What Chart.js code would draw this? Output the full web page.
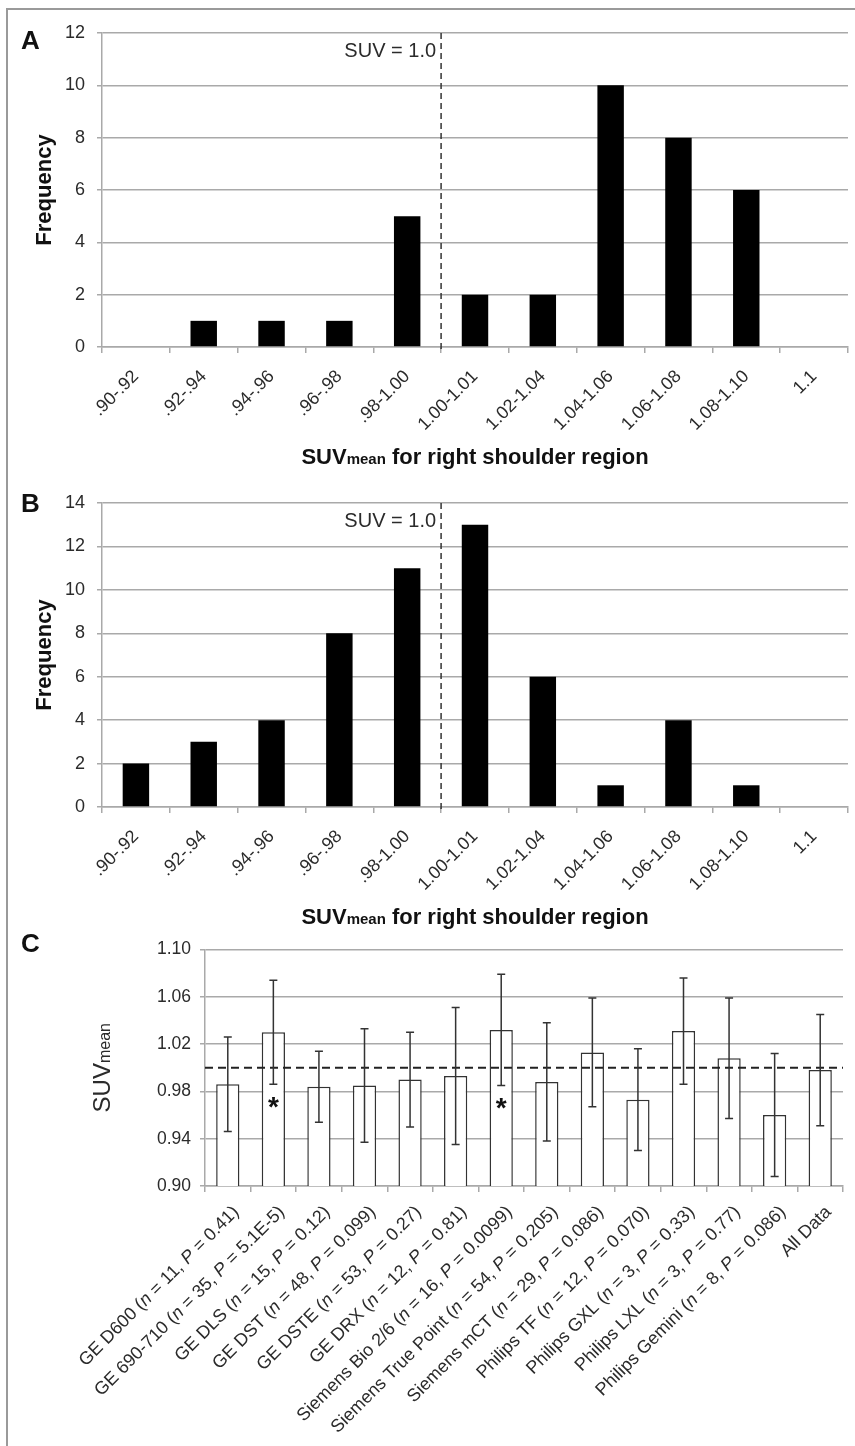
<!DOCTYPE html>
<html>
<head>
<meta charset="utf-8">
<script src="https://cdn.jsdelivr.net/npm/chart.js@4.4.1/dist/chart.umd.min.js"></script>
<style>
  html, body { margin: 0; padding: 0; background: #fff; }
  #fig { position: relative; width: 855px; height: 1446px; overflow: hidden; }
  #frame { position: absolute; left: 6px; top: 8px; width: 900px; height: 1500px;
           border-left: 2px solid #9a9a9a; border-top: 2px solid #9a9a9a; }
  canvas { position: absolute; left: 0; }
</style>
</head>
<body>
<div id="fig">
  <div id="frame"></div>
  <canvas id="chartA" width="855" height="470" style="top:0px"></canvas>
  <canvas id="chartB" width="855" height="460" style="top:470px"></canvas>
  <canvas id="chartC" width="855" height="516" style="top:930px"></canvas>
</div>
<script>
// --- data ---
const binLabels = [".90-.92", ".92-.94", ".94-.96", ".96-.98", ".98-1.00", "1.00-1.01",
                   "1.02-1.04", "1.04-1.06", "1.06-1.08", "1.08-1.10", "1.1"];
const freqA = [0, 1, 1, 1, 5, 2, 2, 10, 8, 6, 0];
const freqB = [2, 3, 4, 8, 11, 13, 6, 1, 4, 1, 0];

const scanners = ["GE D600", "GE 690-710", "GE DLS", "GE DST", "GE DSTE", "GE DRX",
                  "Siemens Bio 2/6", "Siemens True Point", "Siemens mCT", "Philips TF",
                  "Philips GXL", "Philips LXL", "Philips Gemini", "All Data"];
const scannerN = [11, 35, 15, 48, 53, 12, 16, 54, 29, 12, 3, 3, 8, null];
const scannerP = ["0.41", "5.1E-5", "0.12", "0.099", "0.27", "0.81", "0.0099", "0.205",
                  "0.086", "0.070", "0.33", "0.77", "0.086", null];
const suvMean = [0.986, 1.030, 0.984, 0.985, 0.990, 0.993, 1.032, 0.988, 1.013, 0.973,
                 1.031, 1.008, 0.960, 0.998];
const suvSD = [0.040, 0.044, 0.030, 0.048, 0.040, 0.058, 0.047, 0.050, 0.046, 0.043,
               0.045, 0.051, 0.052, 0.047];
const significant = [false, true, false, false, false, false, true, false, false, false,
                     false, false, false, false];
const suvTicks = [0.90, 0.94, 0.98, 1.02, 1.06, 1.10];
const suvRef = 1.0;

// --- style ---
const FONT = "'Liberation Sans', Arial, Helvetica, sans-serif";
const TEXT = "#2b2b2b";
const GRID = "#a9a9a9";
Chart.defaults.font.family = FONT;
Chart.defaults.color = TEXT;

// draw text made of pieces with different fonts, left to right, from x
function drawPieces(ctx, pieces, x, y) {
  let cx = x;
  pieces.forEach(p => {
    ctx.font = p.font;
    ctx.fillText(p.text, cx, y);
    cx += ctx.measureText(p.text).width;
  });
}
function piecesWidth(ctx, pieces) {
  return pieces.reduce((w, p) => { ctx.font = p.font; return w + ctx.measureText(p.text).width; }, 0);
}

// histogram annotations: SUV = 1.0 line, panel letter, axis titles
const histDecor = {
  id: "histDecor",
  afterDraw(chart, args, opts) {
    const { ctx, chartArea: a, scales: { x } } = chart;
    const xv = (x.getPixelForValue(4) + x.getPixelForValue(5)) / 2;
    ctx.save();
    ctx.strokeStyle = "#333";
    ctx.lineWidth = 1.5;
    ctx.setLineDash([6, 4]);
    ctx.beginPath();
    ctx.moveTo(xv, a.top);
    ctx.lineTo(xv, a.bottom + 4);
    ctx.stroke();
    ctx.setLineDash([]);

    ctx.fillStyle = TEXT;
    ctx.textAlign = "right";
    ctx.textBaseline = "middle";
    ctx.font = "20px " + FONT;
    ctx.fillText("SUV = 1.0", xv - 5, a.top + 18);

    // panel letter
    ctx.fillStyle = "#111";
    ctx.textAlign = "left";
    ctx.textBaseline = "alphabetic";
    ctx.font = "bold 26px " + FONT;
    ctx.fillText(opts.letter, 21, opts.letterY);

    // y title
    ctx.save();
    ctx.translate(51, (a.top + a.bottom) / 2);
    ctx.rotate(-Math.PI / 2);
    ctx.textAlign = "center";
    ctx.font = "bold 22px " + FONT;
    ctx.fillText("Frequency", 0, 0);
    ctx.restore();

    // x title with smaller "mean"
    const pieces = [
      { text: "SUV", font: "bold 22px " + FONT },
      { text: "mean", font: "bold 15px " + FONT },
      { text: " for right shoulder region", font: "bold 22px " + FONT }
    ];
    const w = piecesWidth(ctx, pieces);
    drawPieces(ctx, pieces, (a.left + a.right) / 2 - w / 2, a.bottom + 117);
    ctx.restore();
  }
};

function histOptions(yMax, plotTop, plotBottom, canvasH, letter, letterY) {
  return {
    responsive: false,
    animation: false,
    layout: { padding: { top: plotTop, right: 7, left: 0, bottom: 0 } },
    plugins: {
      legend: { display: false },
      tooltip: { enabled: false },
      histDecor: { letter: letter, letterY: letterY }
    },
    scales: {
      x: {
        grid: { drawOnChartArea: false, offset: true, tickLength: 6, color: GRID, lineWidth: 1.5 },
        border: { color: GRID, width: 1.5 },
        ticks: { autoSkip: false, minRotation: 45, maxRotation: 45, padding: 13,
                 color: TEXT, font: { size: 18 } },
        afterFit: s => { s.height = canvasH - plotBottom; }
      },
      y: {
        min: 0,
        max: yMax,
        ticks: { stepSize: 2, padding: 12, color: TEXT, font: { size: 18 } },
        grid: { color: GRID, lineWidth: 1.5, tickLength: 5 },
        border: { color: GRID, width: 1.5 },
        afterFit: s => { s.width = 102; }
      }
    }
  };
}

function histData(values) {
  return {
    labels: binLabels,
    datasets: [{
      data: values,
      backgroundColor: "#000",
      borderWidth: 0,
      barPercentage: 0.39,
      categoryPercentage: 1.0
    }]
  };
}

new Chart(document.getElementById("chartA"), {
  type: "bar",
  data: histData(freqA),
  options: histOptions(12, 33, 347, 470, "A", 49),
  plugins: [histDecor]
});

new Chart(document.getElementById("chartB"), {
  type: "bar",
  data: histData(freqB),
  options: histOptions(14, 33, 337, 460, "B", 42),
  plugins: [histDecor]
});

// --- panel C: error bars, reference line, asterisks, rotated rich labels ---
const scannerDecor = {
  id: "scannerDecor",
  afterDraw(chart) {
    const { ctx, chartArea: a, scales: { x, y } } = chart;
    const meta = chart.getDatasetMeta(0);
    ctx.save();

    // reference line at SUV = 1.0
    const yr = y.getPixelForValue(suvRef);
    ctx.strokeStyle = "#222";
    ctx.lineWidth = 2;
    ctx.setLineDash([8, 5]);
    ctx.beginPath();
    ctx.moveTo(a.left, yr);
    ctx.lineTo(a.right, yr);
    ctx.stroke();
    ctx.setLineDash([]);

    // error bars
    ctx.strokeStyle = "#333";
    ctx.lineWidth = 1.5;
    meta.data.forEach((bar, i) => {
      const yt = y.getPixelForValue(suvMean[i] + suvSD[i]);
      const yb = y.getPixelForValue(suvMean[i] - suvSD[i]);
      ctx.beginPath();
      ctx.moveTo(bar.x, yt); ctx.lineTo(bar.x, yb);
      ctx.moveTo(bar.x - 4, yt); ctx.lineTo(bar.x + 4, yt);
      ctx.moveTo(bar.x - 4, yb); ctx.lineTo(bar.x + 4, yb);
      ctx.stroke();
      if (significant[i]) {
        ctx.fillStyle = "#111";
        ctx.font = "bold 28px " + FONT;
        ctx.textAlign = "center";
        ctx.textBaseline = "alphabetic";
        ctx.fillText("*", bar.x, yb + 32);
      }
    });

    // category labels, rotated 45 degrees, italic n and P
    ctx.fillStyle = TEXT;
    ctx.textAlign = "left";
    ctx.textBaseline = "middle";
    const reg = "18px " + FONT, ital = "italic 18px " + FONT;
    scanners.forEach((name, i) => {
      const pieces = scannerN[i] === null
        ? [{ text: name, font: reg }]
        : [{ text: name + " (", font: reg }, { text: "n", font: ital },
           { text: " = " + scannerN[i] + ", ", font: reg }, { text: "P", font: ital },
           { text: " = " + scannerP[i] + ")", font: reg }];
      const w = piecesWidth(ctx, pieces);
      ctx.save();
      ctx.translate(x.getPixelForValue(i) + 2, a.bottom + 17);
      ctx.rotate(-Math.PI / 4);
      drawPieces(ctx, pieces, -w, 9);
      ctx.restore();
    });

    // panel letter
    ctx.fillStyle = "#111";
    ctx.textBaseline = "alphabetic";
    ctx.font = "bold 26px " + FONT;
    ctx.fillText("C", 21, 22);

    // y title with smaller "mean"
    const ttl = [
      { text: "SUV", font: "24px " + FONT },
      { text: "mean", font: "16px " + FONT }
    ];
    const tw = piecesWidth(ctx, ttl);
    ctx.save();
    ctx.translate(110, (a.top + a.bottom) / 2);
    ctx.rotate(-Math.PI / 2);
    ctx.fillStyle = TEXT;
    drawPieces(ctx, ttl, -tw / 2, 0);
    ctx.restore();

    ctx.restore();
  }
};

new Chart(document.getElementById("chartC"), {
  type: "bar",
  data: {
    labels: scanners,
    datasets: [{
      data: suvMean,
      backgroundColor: "#fff",
      borderColor: "#333",
      borderWidth: 1.5,
      barPercentage: 0.51,
      categoryPercentage: 1.0
    }]
  },
  options: {
    responsive: false,
    animation: false,
    layout: { padding: { top: 17, right: 12, left: 0, bottom: 0 } },
    plugins: { legend: { display: false }, tooltip: { enabled: false } },
    scales: {
      x: {
        grid: { drawOnChartArea: false, offset: true, tickLength: 6, color: GRID, lineWidth: 1.5 },
        border: { color: GRID, width: 1.5 },
        ticks: { display: false, autoSkip: false },
        afterFit: s => { s.height = 516 - 256; }
      },
      y: {
        min: 0.90,
        max: 1.10,
        afterBuildTicks: s => { s.ticks = suvTicks.map(v => ({ value: v })); },
        ticks: { padding: 9, color: TEXT, font: { size: 17.5 }, callback: v => v.toFixed(2) },
        grid: { color: GRID, lineWidth: 1.5, tickLength: 5 },
        border: { color: GRID, width: 1.5 },
        afterFit: s => { s.width = 205; }
      }
    }
  },
  plugins: [scannerDecor]
});
</script>
</body>
</html>
